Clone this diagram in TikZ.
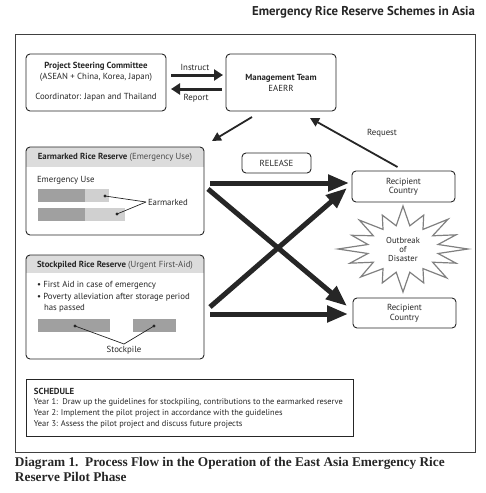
\documentclass[tikz,border=0pt]{standalone}
\usepackage{fontspec}
\setmainfont{Liberation Serif}
\newfontfamily\dfont{PT Sans}
\usetikzlibrary{arrows.meta}
\definecolor{bardark}{HTML}{A0A0A0}
\definecolor{barlight}{HTML}{D0D0D0}
\definecolor{hdrgray}{HTML}{DCDCDC}
\definecolor{ink}{HTML}{262626}
\begin{document}
\begin{tikzpicture}[x=1pt,y=-1pt,
  box/.style={draw=ink, line width=0.9pt, rounded corners=4pt},
  plain/.style={inner sep=0pt, outer sep=0pt},
  txt/.style={plain, text=ink, font=\dfont\fontsize{8.8}{9.5}\selectfont},
  smalltxt/.style={plain, text=ink, font=\dfont\fontsize{8.4}{9}\selectfont},
  btxt/.style={plain, text=ink, font=\dfont\bfseries\fontsize{8.8}{9.5}\selectfont},
  thinarrow/.style={draw=ink, line width=1.8pt, -{Triangle[length=9pt,width=9pt]}},
  midarrow/.style={draw=ink, line width=3pt, -{Triangle[length=9pt,width=11pt]}},
  bigarrow/.style={draw=ink, line width=5pt, -{Triangle[length=21pt,width=16pt]}},
  pointer/.style={draw=ink, line width=0.7pt},
  burst/.style={draw=black!50, line width=1.2pt, fill=white, line join=miter}]
\useasboundingbox (0,0) rectangle (485,493);

% page header
\node[plain, anchor=east, font=\dfont\bfseries\fontsize{12.8}{14}\selectfont, text=ink] (hdr) at (475,12) {Emergency Rice Reserve Schemes in Asia};

% outer frame
\draw[draw=black!75, line width=1pt] (15,34) rectangle (475,452);

% steering committee
\node[box, minimum width=140pt, minimum height=57pt, plain] (psc) at (96,82.5) {};
\node[btxt] (psct) at (96,66) {Project Steering Committee};
\node[txt] (psca) at (96,77) {(ASEAN + China, Korea, Japan)};
\node[txt] (pscc) at (96,97) {Coordinator: Japan and Thailand};

% management team
\node[box, minimum width=110pt, minimum height=57pt, plain] (mt) at (281,82.5) {};
\node[btxt] (mtt) at (281,78) {Management Team};
\node[txt] (mte) at (281,88) {EAERR};

% instruct / report
\draw[midarrow] ([shift={(5,-7.5)}]psc.east) -- ([shift={(-3,-7.5)}]mt.west);
\draw[midarrow] ([shift={(-4,6.5)}]mt.west) -- ([shift={(5,6.5)}]psc.east);
\node[txt] (instr) at (195,67) {Instruct};
\node[txt] (rep) at (196,98) {Report};

% earmarked reserve
\node[plain, minimum width=178pt, minimum height=88pt] (emr) at (115,191) {};
\begin{scope}
  \clip[rounded corners=4pt] (emr.north west) rectangle (emr.south east);
  \fill[hdrgray] (emr.north west) rectangle ([yshift=-20pt]emr.north east);
\end{scope}
\draw[box] (emr.north west) rectangle (emr.south east);
\node[txt] (emrh) at (115,157) {\bfseries Earmarked Rice Reserve \mdseries\color{black!70}(Emergency Use)};
\node[txt, anchor=west] (emu) at (37,180) {Emergency Use};
\fill[bardark] (38,189) rectangle (85,202);
\fill[barlight] (85,189) rectangle (109,202);
\fill[bardark] (38,208) rectangle (85,221);
\fill[barlight] (85,208) rectangle (125,221);
\coordinate (d1) at (105,196);
\coordinate (d2) at (117,214);
\fill[ink] (d1) circle (1.6);
\fill[ink] (d2) circle (1.6);
\node[txt, anchor=west, inner sep=2pt] (earm) at (146,202) {Earmarked};
\draw[pointer] (d1) -- (earm.west);
\draw[pointer] (d2) -- (earm.west);

% stockpiled reserve
\node[plain, minimum width=178pt, minimum height=104pt] (spk) at (115,307) {};
\begin{scope}
  \clip[rounded corners=4pt] (spk.north west) rectangle (spk.south east);
  \fill[hdrgray] (spk.north west) rectangle ([yshift=-18pt]spk.north east);
\end{scope}
\draw[box] (spk.north west) rectangle (spk.south east);
\node[txt] (spkh) at (115,265) {\bfseries Stockpiled Rice Reserve \mdseries\color{black!70}(Urgent First-Aid)};
\node[txt, anchor=west] (b1) at (37,285) {\textbullet\ First Aid in case of emergency};
\node[txt, anchor=west] (b2) at (37,297) {\textbullet\ Poverty alleviation after storage period};
\node[txt, anchor=west] (b3) at (44,308) {has passed};
\fill[bardark] (38,319) rectangle (110,332);
\fill[bardark] (133,319) rectangle (176,332);
\coordinate (s1) at (75,326);
\coordinate (s2) at (154,326);
\fill[ink] (s1) circle (1.6);
\fill[ink] (s2) circle (1.6);
\node[txt, inner sep=2pt] (stk) at (124,350) {Stockpile};
\draw[pointer] (s1) -- (stk.north);
\draw[pointer] (s2) -- (stk.north);

% release
\node[box, plain, minimum width=69pt, minimum height=20pt] (rel) at (276.5,163) {};
\node[txt] (relt) at (276.5,163) {RELEASE};

% recipients
\node[box, plain, minimum width=103pt, minimum height=31pt] (rc1) at (403.5,186.5) {};
\node[txt, align=center] (rc1t) at (403.5,187) {Recipient\\Country};
\node[box, plain, minimum width=103pt, minimum height=30pt] (rc2) at (404.5,313) {};
\node[txt, align=center] (rc2t) at (404.5,313.5) {Recipient\\Country};

% management -> earmarked, request
\draw[thinarrow] ([shift={(26,6)}]mt.south west) -- ([shift={(8,-6)}]emr.north east);
\draw[thinarrow] ([shift={(-6,-4)}]rc1.north) -- ([shift={(-26,7)}]mt.south east);
\node[txt] (req) at (382,133) {Request};

% starburst
\begin{scope}[shift={(403,249)}, x=65pt, y=43pt]
\draw[burst] (0:1.0) -- (11:0.55) -- (22:0.88) -- (34:0.55) -- (45:0.98) -- (56:0.55) -- (68:0.85) -- (79:0.55) -- (90:1.0) -- (101:0.55) -- (112:0.85) -- (124:0.55) -- (135:0.95) -- (146:0.55) -- (158:0.85) -- (169:0.55) -- (180:1.0) -- (191:0.55) -- (202:0.88) -- (214:0.55) -- (225:0.92) -- (236:0.55) -- (248:0.85) -- (259:0.55) -- (270:1.0) -- (281:0.55) -- (292:0.85) -- (304:0.55) -- (315:0.95) -- (326:0.55) -- (338:0.88) -- (349:0.55) -- cycle;
\end{scope}
\node[txt, align=center, font=\dfont\fontsize{8.6}{8.7}\selectfont] (dis) at (403,249.5) {Outbreak\\of\\Disaster};

% release arrows
\draw[bigarrow] ([shift={(6,-8)}]emr.east) -- ([shift={(-3,-3.5)}]rc1.west);
\draw[bigarrow] ([shift={(4,-2)}]emr.east) -- ([shift={(-6,-7)}]rc2.west);
\draw[bigarrow] ([shift={(6,0)}]spk.east) -- ([shift={(-5,1.5)}]rc1.west);
\draw[bigarrow] ([shift={(6,7)}]spk.east) -- ([shift={(-5,1)}]rc2.west);

% schedule
\node[draw=ink, line width=0.9pt, plain, minimum width=327pt, minimum height=57pt] (sch) at (189.5,407.5) {};
\node[btxt, anchor=west] (scht) at (34,391) {SCHEDULE};
\node[smalltxt, anchor=west] (y1) at (34,402) {Year 1:\ \ Draw up the guidelines for stockpiling, contributions to the earmarked reserve};
\node[smalltxt, anchor=west] (y2) at (34,413) {Year 2: Implement the pilot project in accordance with the guidelines};
\node[smalltxt, anchor=west] (y3) at (34,424) {Year 3: Assess the pilot project and discuss future projects};

% caption
\node[plain, anchor=west, font=\bfseries\fontsize{13.3}{14}\selectfont, text=ink] (cap1) at (15,463) {Diagram 1.\ \ Process Flow in the Operation of the East Asia Emergency Rice};
\node[plain, anchor=west, font=\bfseries\fontsize{13.3}{14}\selectfont, text=ink] (cap2) at (15,477) {Reserve Pilot Phase};
\end{tikzpicture}
\end{document}
